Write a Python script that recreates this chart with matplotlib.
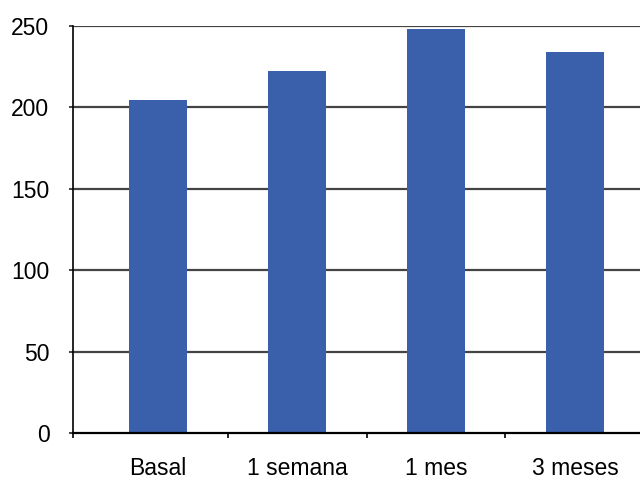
import numpy as np
import matplotlib.pyplot as plt
from matplotlib.ticker import FixedLocator

categorias = ['Basal', '1 semana', '1 mes', '3 meses']
valores = [204.5, 222.5, 248.2, 234.0]
yticks = [0, 50, 100, 150, 200, 250]

plt.rcParams['font.family'] = ['Liberation Sans', 'DejaVu Sans']

fig = plt.figure(figsize=(6.4, 4.84), dpi=100)
ax = fig.add_axes([73/640, 1 - 433/484, 1 - 73/640, (433 - 26)/484])

x = np.arange(len(categorias))
ax.bar(x, valores, width=0.42, color='#3A5FAB', zorder=3)

# lineas de referencia horizontales
for v in yticks[1:]:
    ax.axhline(v, color='#444444', lw=1.6, zorder=1)

ax.set_xlim(-0.612, 3.468)
ax.set_ylim(0, 250)
ax.set_yticks(yticks)
ax.set_xticks(x)
ax.set_xticklabels(categorias)
ax.xaxis.set_minor_locator(FixedLocator([-0.612, 0.5, 1.5, 2.5]))

for s in ['top', 'right']:
    ax.spines[s].set_visible(False)
ax.spines['left'].set_linewidth(1.2)
ax.spines['bottom'].set_linewidth(1.6)
ax.spines['left'].set_zorder(4)
ax.spines['bottom'].set_zorder(4)

ax.tick_params(axis='x', which='major', length=0, pad=17, labelsize=16.5)
ax.tick_params(axis='x', which='minor', length=3.5, width=1.2, direction='out')
ax.tick_params(axis='y', length=3, width=1.4, color='#444444', pad=14, labelsize=16.5)

fig.savefig('out.png', dpi=100)
